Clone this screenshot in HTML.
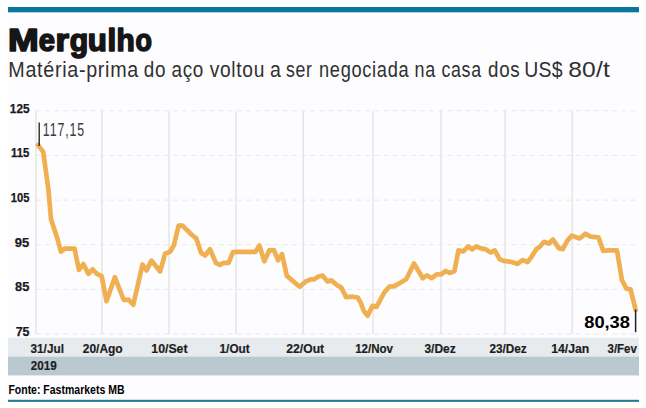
<!DOCTYPE html>
<html><head><meta charset="utf-8">
<style>
html,body{margin:0;padding:0;background:#fff;}
body{width:646px;height:408px;overflow:hidden;position:relative;}
svg{position:absolute;left:0;top:0;}
text{font-family:"Liberation Sans",sans-serif;}
.dash{stroke:#e8e8e8;stroke-width:1;stroke-dasharray:4.6 4.55;}
.vl{stroke:#e6e6e6;stroke-width:1.5;}
.yl text{fill:#1a1a1a;stroke:#1a1a1a;stroke-width:0.25;}
.xl text{fill:#1e1e1e;stroke:#1e1e1e;stroke-width:0.2;}
.sub text{fill:#303030;}
</style></head><body>
<svg width="646" height="408" viewBox="0 0 646 408">
<rect x="8" y="12" width="631" height="388" fill="#fdfcfe"/>
<rect x="8" y="7" width="631" height="5.3" fill="#0a769c"/>
<g fill="#161616" stroke="#161616" stroke-width="1.6" stroke-linejoin="round"><text x="8.03" y="50.6" font-size="30.5" font-weight="bold" textLength="30.74" lengthAdjust="spacingAndGlyphs" >M</text>
<text x="38.66" y="50.6" font-size="30.5" font-weight="bold" textLength="16.24" lengthAdjust="spacingAndGlyphs" >e</text>
<text x="55.51" y="50.6" font-size="30.5" font-weight="bold" textLength="13.51" lengthAdjust="spacingAndGlyphs" >r</text>
<text x="69.76" y="50.6" font-size="30.5" font-weight="bold" textLength="18.46" lengthAdjust="spacingAndGlyphs" >g</text>
<text x="87.66" y="50.6" font-size="30.5" font-weight="bold" textLength="19.10" lengthAdjust="spacingAndGlyphs" >u</text>
<text x="107.51" y="50.6" font-size="30.5" font-weight="bold" textLength="8.71" lengthAdjust="spacingAndGlyphs" >l</text>
<text x="116.62" y="50.6" font-size="30.5" font-weight="bold" textLength="18.24" lengthAdjust="spacingAndGlyphs" >h</text>
<text x="135.45" y="50.6" font-size="30.5" font-weight="bold" textLength="16.40" lengthAdjust="spacingAndGlyphs" >o</text>
</g>
<g class="sub"><text transform="matrix(0.8963 0 0 1 8.28 0)" x="0" y="76.6" font-size="22" font-weight="normal" letter-spacing="0.781">Matéria-prima</text>
<text transform="matrix(0.8575 0 0 1 143.71 0)" x="0" y="76.6" font-size="22" font-weight="normal" letter-spacing="0.816">do</text>
<text transform="matrix(0.8568 0 0 1 171.50 0)" x="0" y="76.6" font-size="22" font-weight="normal" letter-spacing="0.817">aço</text>
<text transform="matrix(0.8728 0 0 1 209.63 0)" x="0" y="76.6" font-size="22" font-weight="normal" letter-spacing="0.802">voltou</text>
<text transform="matrix(0.8849 0 0 1 270.07 0)" x="0" y="76.6" font-size="22" font-weight="normal" letter-spacing="0.000">a</text>
<text transform="matrix(0.8045 0 0 1 286.01 0)" x="0" y="76.6" font-size="22" font-weight="normal" letter-spacing="0.870">ser</text>
<text transform="matrix(0.8284 0 0 1 318.99 0)" x="0" y="76.6" font-size="22" font-weight="normal" letter-spacing="0.845">negociada</text>
<text transform="matrix(0.8170 0 0 1 414.51 0)" x="0" y="76.6" font-size="22" font-weight="normal" letter-spacing="0.857">na</text>
<text transform="matrix(0.8081 0 0 1 441.44 0)" x="0" y="76.6" font-size="22" font-weight="normal" letter-spacing="0.866">casa</text>
<text transform="matrix(0.8533 0 0 1 488.01 0)" x="0" y="76.6" font-size="22" font-weight="normal" letter-spacing="0.820">dos</text>
<text transform="matrix(0.8835 0 0 1 524.30 0)" x="0" y="76.6" font-size="22" font-weight="normal" letter-spacing="0.226">US$</text>
<text transform="matrix(1.1187 0 0 1 568.13 0)" x="0" y="76.6" font-size="22" font-weight="normal" letter-spacing="0.179">80/t</text>
</g>
<line x1="36" y1="110.7" x2="636" y2="110.7" class="dash"/>
<line x1="36" y1="155.4" x2="636" y2="155.4" class="dash"/>
<line x1="36" y1="200.1" x2="636" y2="200.1" class="dash"/>
<line x1="36" y1="244.7" x2="636" y2="244.7" class="dash"/>
<line x1="36" y1="289.4" x2="636" y2="289.4" class="dash"/>
<line x1="36" y1="334.1" x2="636" y2="334.1" class="dash"/>
<line x1="36" y1="110.7" x2="36" y2="334.1" class="vl"/>
<line x1="101.9" y1="110.7" x2="101.9" y2="334.1" class="vl"/>
<line x1="169" y1="110.7" x2="169" y2="334.1" class="vl"/>
<line x1="236" y1="110.7" x2="236" y2="334.1" class="vl"/>
<line x1="303.3" y1="110.7" x2="303.3" y2="334.1" class="vl"/>
<line x1="373.1" y1="110.7" x2="373.1" y2="334.1" class="vl"/>
<line x1="441" y1="110.7" x2="441" y2="334.1" class="vl"/>
<line x1="505.1" y1="110.7" x2="505.1" y2="334.1" class="vl"/>
<line x1="572.3" y1="110.7" x2="572.3" y2="334.1" class="vl"/>

<g class="yl"><text x="9.86" y="112.6" font-size="12" font-weight="bold" textLength="19.67" lengthAdjust="spacingAndGlyphs" >125</text>
<text x="11.11" y="157.3" font-size="12" font-weight="bold" textLength="18.30" lengthAdjust="spacingAndGlyphs" >115</text>
<text x="10.80" y="202.0" font-size="12" font-weight="bold" textLength="18.61" lengthAdjust="spacingAndGlyphs" >105</text>
<text x="14.85" y="246.6" font-size="12" font-weight="bold" textLength="14.41" lengthAdjust="spacingAndGlyphs" >95</text>
<text x="15.09" y="291.3" font-size="12" font-weight="bold" textLength="14.26" lengthAdjust="spacingAndGlyphs" >85</text>
<text x="15.67" y="336.0" font-size="12" font-weight="bold" textLength="13.78" lengthAdjust="spacingAndGlyphs" >75</text>
</g>
<polyline points="38.1,145.1 43.2,151.8 48.5,190 51,219.2 57.2,238 60.9,251.7 64.8,248.7 74.6,248.7 78.9,269.9 83.4,264 88.3,273.8 92.6,269.3 97.2,274.2 101.7,276.2 106.5,301.2 114.8,277.2 123.8,300 128.5,299.7 133.3,304.7 142.5,264.5 146.5,270.4 151.4,260.6 160.2,271.4 165.1,253.7 170,251.8 173.8,245.5 178.6,225.7 182.5,225.7 191.4,234.5 196.3,238.4 201.2,253.1 205.1,255.5 210,249.2 215.9,262.9 219.8,264.9 223.7,262.9 228.6,262.9 232.9,252.2 235.9,251.8 255.5,251.8 259.4,245.5 264.3,261.2 269.2,250.4 274.1,250.4 278,260.2 282,254.3 286.9,275.9 299.6,286.7 305.9,281.4 310.8,279.4 313.7,279.4 318.6,276.5 322.5,275.5 327.5,281.4 331.4,280.4 337.3,285.3 341.2,287.3 346.1,297.1 352.9,296.7 357.8,297.5 360.8,302.9 363.7,310.8 367.6,315.7 372.5,305.9 376.5,306.9 384.6,292 389.5,286.7 394.4,286.1 400.3,282.7 406.2,279.2 414,263.5 422.8,278.2 426.8,275.3 431.7,278.2 436.6,274.3 440.8,274.5 445.7,271 449.6,273 454.5,271 458.4,250.4 463.3,251.4 468.2,246.5 472.2,249.4 476.1,246.5 481,248.4 485.9,249.4 490.8,252.4 494.7,250.4 499.6,259.2 503.5,260.8 511.8,262 517.6,263.9 522.5,260 527.5,262 531.4,257.1 536.3,249.2 540.2,246.3 544.1,241.8 549,243.7 552.9,239.4 558.8,248.2 562.7,249.2 567.6,240.4 571.8,235.6 579.6,238.5 585.6,233.7 590.5,236.7 598.4,237.3 603.3,251 608.2,250.4 617,250.4 621.9,280 626.4,288.7 630.5,289.3 634.1,303.5 635.6,310.1" fill="none" stroke="#f0b052" stroke-width="4.7" stroke-linejoin="round" stroke-linecap="round"/>
<line x1="39.2" y1="122.5" x2="39.2" y2="146" stroke="#2a2a2a" stroke-width="1.4"/>
<g fill="#3a3a3a"><text transform="matrix(0.6858 0 0 1 42.86 0)" x="0" y="136.4" font-size="18" font-weight="normal" letter-spacing="1.312">117,15</text>
</g>
<line x1="635.6" y1="309.5" x2="635.6" y2="332.2" stroke="#222" stroke-width="1.5"/>
<text x="584.22" y="328.4" font-size="16" font-weight="bold" textLength="45.74" lengthAdjust="spacingAndGlyphs" >80,38</text>

<rect x="8" y="337.8" width="631" height="18.8" fill="#e8ebee"/>
<rect x="8" y="356.6" width="631" height="18.8" fill="#bac8cf"/>
<g class="xl"><text x="30.53" y="352.6" font-size="12" font-weight="bold" textLength="33.40" lengthAdjust="spacingAndGlyphs" >31/Jul</text>
<text x="82.79" y="352.6" font-size="12" font-weight="bold" textLength="39.88" lengthAdjust="spacingAndGlyphs" >20/Ago</text>
<text x="151.33" y="352.6" font-size="12" font-weight="bold" textLength="36.22" lengthAdjust="spacingAndGlyphs" >10/Set</text>
<text x="219.56" y="352.6" font-size="12" font-weight="bold" textLength="30.19" lengthAdjust="spacingAndGlyphs" >1/Out</text>
<text x="286.38" y="352.6" font-size="12" font-weight="bold" textLength="37.77" lengthAdjust="spacingAndGlyphs" >22/Out</text>
<text x="355.17" y="352.6" font-size="12" font-weight="bold" textLength="37.88" lengthAdjust="spacingAndGlyphs" >12/Nov</text>
<text x="424.43" y="352.6" font-size="12" font-weight="bold" textLength="31.21" lengthAdjust="spacingAndGlyphs" >3/Dez</text>
<text x="489.39" y="352.6" font-size="12" font-weight="bold" textLength="37.33" lengthAdjust="spacingAndGlyphs" >23/Dez</text>
<text x="551.23" y="352.6" font-size="12" font-weight="bold" textLength="38.03" lengthAdjust="spacingAndGlyphs" >14/Jan</text>
<text x="607.54" y="352.6" font-size="12" font-weight="bold" textLength="29.31" lengthAdjust="spacingAndGlyphs" >3/Fev</text>
<text x="30.70" y="370.2" font-size="12" font-weight="bold" textLength="25.94" lengthAdjust="spacingAndGlyphs" >2019</text>
</g>
<text x="8.40" y="393.8" font-size="12" font-weight="bold" textLength="116.08" lengthAdjust="spacingAndGlyphs" >Fonte: Fastmarkets MB</text>

<rect x="8" y="399.8" width="631" height="2.1" fill="#2b7b8f"/>
</svg>
</body></html>
